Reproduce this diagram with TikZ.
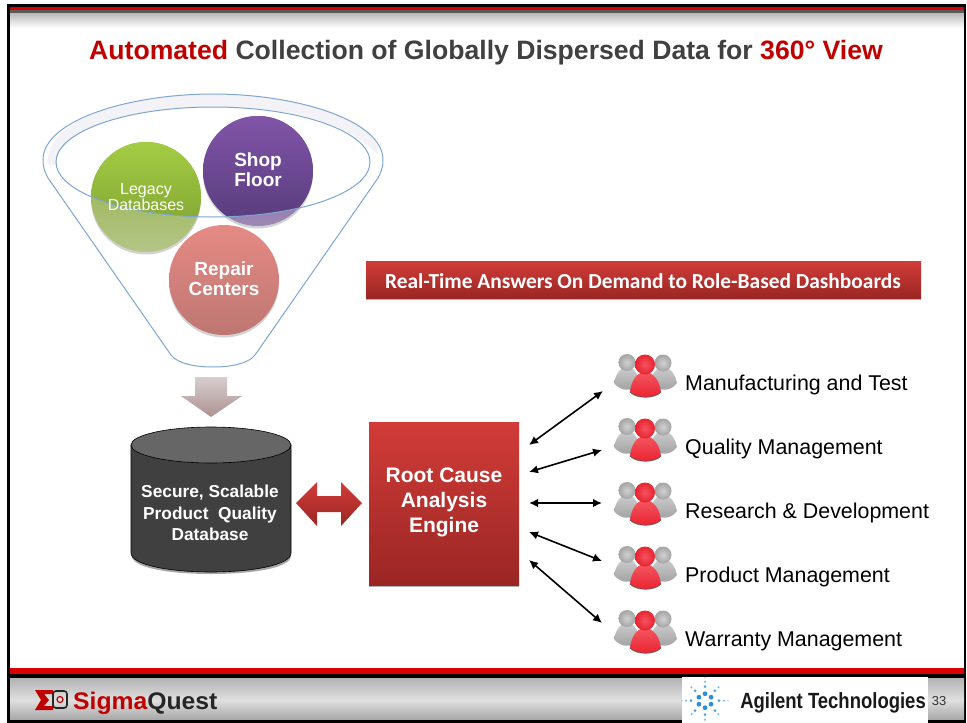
\documentclass[tikz,border=0pt]{standalone}
\usepackage{fontspec}
\usepackage{graphicx}
\usetikzlibrary{arrows.meta}
\setmainfont{Liberation Sans}
\newfontfamily\carl{Carlito}
\definecolor{tred}{HTML}{C00000}
\definecolor{tgray}{HTML}{404040}
\definecolor{rtop}{HTML}{D23C38}
\definecolor{rbot}{HTML}{9A2624}
\definecolor{rimblue}{HTML}{7FA6D2}
\definecolor{agblue}{HTML}{2E8FD8}
\definecolor{lgA}{HTML}{8FB040}
\definecolor{lgB}{HTML}{B4C587}
\definecolor{grA}{HTML}{A4CC44}
\definecolor{grB}{HTML}{7A9C30}
\definecolor{plA}{HTML}{7A55A0}
\definecolor{plB}{HTML}{9C88B4}
\definecolor{puA}{HTML}{8154A8}
\definecolor{puB}{HTML}{573C7C}
\definecolor{pkA}{HTML}{E58A84}
\definecolor{pkB}{HTML}{BE7672}
\definecolor{pplRed}{HTML}{E8222F}
\definecolor{pplHi}{HTML}{F45560}
\newcommand{\fs}[1]{\fontsize{#1}{#1}\selectfont}
\tikzset{
  x=1pt,y=-1pt,
  bi/.style={{Latex[length=9pt,width=8.5pt]}-{Latex[length=9pt,width=8.5pt]},black,line width=1.6pt},
  roleText/.style={anchor=west,inner sep=0pt,font=\fs{21.4},text=black},
  ballText/.style={align=center,inner sep=0pt,text=white,font=\fs{18.5}\bfseries},
  redBox/.style={top color=rtop,bottom color=rbot,draw=none},
  rimLine/.style={draw=rimblue,line width=1pt},
  pics/peeps/.style={code={
    \shade[top color=gray!40,bottom color=gray!75] (1,28) .. controls (3,18) and (8,12) .. (14,12) .. controls (20,12) and (25,18) .. (27,28) .. controls (20,37) and (8,37) .. (1,28) -- cycle;
    \shade[top color=gray!40,bottom color=gray!75] (37,28) .. controls (39,18) and (44,12) .. (50,12) .. controls (56,12) and (62,18) .. (64,28) .. controls (58,37) and (44,37) .. (37,28) -- cycle;
    \shade[inner color=gray!35,outer color=gray!72] (14,7.5) circle[radius=8.5pt];
    \shade[inner color=gray!35,outer color=gray!72] (50,8) circle[radius=8.5pt];
    \shade[top color=pplHi,bottom color=pplRed] (17,37) .. controls (18,26) and (24,17) .. (32,17) .. controls (40,17) and (47,26) .. (48,37) .. controls (42,44) and (23,44) .. (17,37) -- cycle;
    \draw[gray!70!black,line width=.6pt] (17,37) .. controls (23,44) and (42,44) .. (48,37);
    \shade[inner color=pplHi,outer color=pplRed] (32,9.5) circle[radius=10pt];
  }},
}
\begin{document}
\begin{tikzpicture}
\useasboundingbox (0,0) rectangle (967,723);
\fill[white] (0,0) rectangle (967,723);
% frame
\shade[top color=gray!55,bottom color=white] (10,13) rectangle (964,28);
\fill[black] (7,4) rectangle (966,7);
\fill[red!85!black] (7,7) rectangle (966,9.5);
\fill[gray!70!black] (7,9.5) rectangle (966,13);
\fill[black] (7,4) rectangle (10,722);
\fill[black] (963.5,4) rectangle (966,722);
% footer
\fill[red!85!black] (10,668) rectangle (964,674);
\fill[black] (7,674) rectangle (966,678);
\shade[top color=gray!60,bottom color=gray!25] (10,678) rectangle (964,700);
\shade[top color=gray!25,bottom color=gray!70] (10,700) rectangle (964,720);
\fill[black] (7,720) rectangle (966,722.5);
\fill[white] (682,677) rectangle (928,723);
% title
\node[inner sep=0pt,font=\fs{26.6}\bfseries,text=tgray] (title) at (486,53) {\textcolor{tred}{Automated} Collection of Globally Dispersed Data for \textcolor{tred}{360° View}};
% funnel crescent
\fill[blue!25!gray!8] (48,165) .. controls (43,120) and (130,94) .. (213,94) .. controls (296,94) and (383,120) .. (378,155)
  .. controls (350,125) and (300,107) .. (213,107) .. controls (126,107) and (56,132) .. (56,165) -- cycle;
% balls: shadows
\fill[gray!35] (146,199.5) circle[radius=55pt];
\fill[gray!35] (258,173.5) circle[radius=55pt];
\fill[gray!35] (224,282.5) circle[radius=55pt];
% lower, washed parts
\shade[top color=lgA,bottom color=lgB] (146,197) circle[radius=55pt];
\shade[top color=plA,bottom color=plB] (258,171) circle[radius=55pt];
\begin{scope}
\clip (213,162) ellipse[x radius=157pt,y radius=55pt];
\shade[top color=grA,bottom color=grB] (146,197) circle[radius=55pt];
\shade[top color=puA,bottom color=puB] (258,171) circle[radius=55pt];
\end{scope}
\shade[top color=pkA,bottom color=pkB] (224,280) circle[radius=55pt];
% funnel outline
\draw[rimLine] (43,160) .. controls (43,120) and (130,94) .. (213,94) .. controls (296,94) and (383,120) .. (383,160)
  .. controls (383,168) and (381,172) .. (378,178) -- (255,355) .. controls (248,364) and (230,367) .. (213,367)
  .. controls (196,367) and (178,364) .. (171,355) -- (48,178) .. controls (45,172) and (43,168) .. (43,160) -- cycle;
\draw[rimLine] (213,162) ellipse[x radius=157pt,y radius=55pt];
\node[ballText,font=\fs{16}] (legacy) at (146,197) {Legacy\\[0pt]Databases};
\node[ballText,font=\fs{19}\bfseries] (shop) at (258,170) {Shop\\[1pt]Floor};
\node[ballText,font=\fs{19}\bfseries] (repair) at (224,279) {Repair\\[1pt]Centers};
% down arrow
\shade[top color=red!10!gray!35,bottom color=red!15!gray!75] (195,377) -- (227,377) -- (227,396) -- (242,396) -- (211,417) -- (181,396) -- (195,396) -- cycle;
% cylinder
\fill[gray!70] (132,556) .. controls (132,568) and (170,574) .. (211,574) .. controls (252,574) and (291,568) .. (291,556) -- cycle;
\draw[black,fill=tgray,line width=.6pt] (131,445) -- (131,553) .. controls (131,565) and (170,572) .. (211,572) .. controls (252,572) and (291,565) .. (291,553) -- (291,445) -- cycle;
\draw[black,fill=black!60,line width=.6pt] (211,445) ellipse[x radius=80pt,y radius=18pt];
\node[align=center,inner sep=0pt,text=white,font=\fs{17.3}\bfseries] (db) at (210,513) {Secure, Scalable\\[4pt]Product\ \ Quality\\[4pt]Database};
% double arrow
\shade[redBox] (296,503) -- (317,482) -- (317,496) -- (341,496) -- (341,482) -- (362,503) -- (341,526) -- (341,512) -- (317,512) -- (317,526) -- cycle;
% engine
\fill[gray!60] (369,584) rectangle (519,587);
\node[redBox,minimum width=150pt,minimum height=163pt,inner sep=0pt] (engine) at (444,503.5) {};
\node[align=center,inner sep=0pt,text=white,font=\fs{21}\bfseries] (enginelabel) at (444,502) {Root Cause\\[4pt]Analysis\\[4pt]Engine};
% banner
\fill[gray!60] (366,297) rectangle (921,299.5);
\node[redBox,minimum width=555pt,minimum height=37pt,inner sep=0pt] (banner) at (643.5,279.5) {};
\node[inner sep=0pt,text=white,font=\carl\fs{21.4}\bfseries] (bannerlabel) at (643,281) {Real-Time Answers On Demand to Role-Based Dashboards};
% people
\foreach \i/\yy in {1/355,2/419,3/483,4/547,5/611}{
  \pic at (613,\yy) {peeps};
}
\node[roleText] (r1) at (685,385) {Manufacturing and Test};
\node[roleText] (r2) at (685,449) {Quality Management};
\node[roleText] (r3) at (685,513) {Research \& Development};
\node[roleText] (r4) at (685,577) {Product Management};
\node[roleText] (r5) at (685,641) {Warranty Management};
% connectors
\coordinate (a1) at (529,445); \coordinate (b1) at (603,391);
\coordinate (a2) at (529,472); \coordinate (b2) at (602,450);
\coordinate (a3) at (529,503); \coordinate (b3) at (602,503);
\coordinate (a4) at (529,532); \coordinate (b4) at (602,561);
\coordinate (a5) at (529,560); \coordinate (b5) at (602,623);
\foreach \i in {1,...,5}{\draw[bi] (a\i) -- (b\i);}
% SigmaQuest logo
\fill[tred] (35,690) -- (53,690) -- (53,694) -- (44,694) -- (49,700) -- (44,706) -- (53,706) -- (53,710) -- (35,710) -- (41,700) -- cycle;
\draw[black!85,line width=1.6pt,rounded corners=3pt] (53,691) rectangle (67,708);
\draw[tred,line width=1.2pt] (60,699.5) circle[radius=3pt];
\node[anchor=west,inner sep=0pt,font=\fs{24}\bfseries,text=black!85] (sq) at (73,703) {\scalebox{1.03}[1]{\textcolor{tred}{Sigma}Quest}};
% Agilent logo
\foreach \a in {30,90,...,330}{
  \fill[agblue] (705,700.7) ++(\a:7pt) circle[radius=2.4pt];
}
\foreach \a in {0,45,...,315}{
  \fill[agblue!85] (705,700.7) ++(\a:14pt) circle[radius=1.5pt];
  \fill[agblue!65] (705,700.7) ++(\a:19pt) circle[radius=1.1pt];
}
\foreach \a in {0,90,180,270}{
  \fill[agblue!45] (705,700.7) ++(\a:23pt) circle[radius=.9pt];
}
\node[inner sep=0pt,font=\fs{22}\bfseries,text=black!90] (ag) at (833,703) {\scalebox{0.84}[1]{Agilent Technologies}};
\node[inner sep=0pt,font=\fs{13},text=black!80] (pg) at (939,701) {33};
\end{tikzpicture}
\end{document}
